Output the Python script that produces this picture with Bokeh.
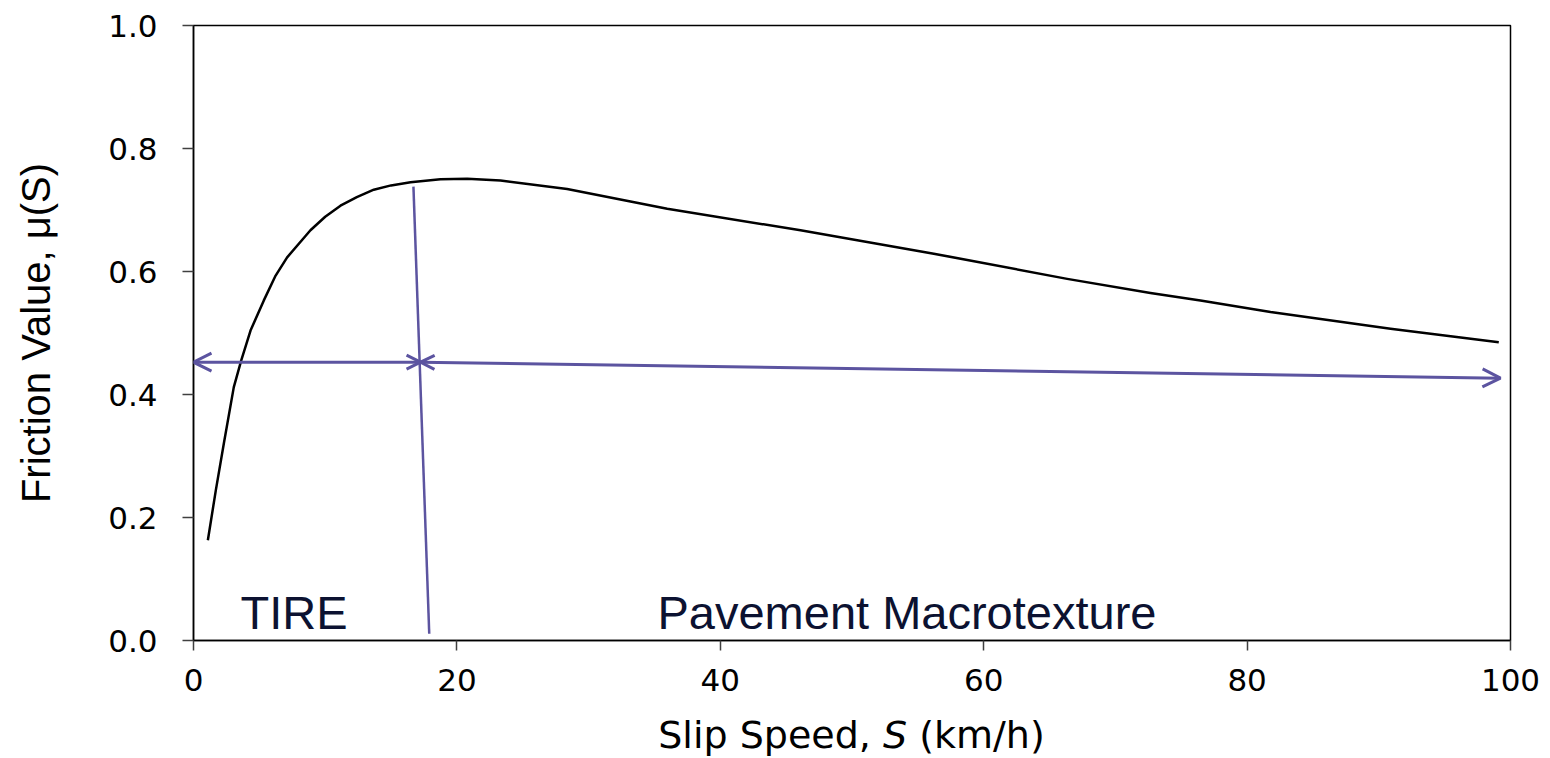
from bokeh.plotting import figure
from bokeh.models import Range1d, FixedTicker, Label, Arrow, OpenHead, Div
from bokeh.layouts import column
from bokeh.embed import file_html
from bokeh.resources import INLINE

# Friction curve mu(S) versus slip speed S
speed = [1.09, 1.70, 2.30, 3.06, 3.62, 4.33, 5.34, 6.20, 7.11, 8.88, 10.00,
         11.16, 12.40, 13.69, 15.00, 16.48, 18.75, 20.78, 23.31, 28.37, 35.97,
         46.09, 56.21, 66.34, 72.66, 76.46, 81.78, 90.89, 99.11]
friction = [0.163, 0.245, 0.320, 0.412, 0.455, 0.504, 0.553, 0.592, 0.623,
            0.667, 0.689, 0.707, 0.721, 0.733, 0.740, 0.745, 0.750, 0.751,
            0.748, 0.734, 0.702, 0.667, 0.629, 0.588, 0.565, 0.553, 0.534,
            0.507, 0.485]

# Boundary between the tire-dominated and macrotexture-dominated zones
divider_s = [16.7, 17.9]
divider_mu = [0.738, 0.011]

# Zone arrows: (S, mu) of the start and end of each arrow
tire_arrow_s = [0.0, 17.24]
tire_arrow_mu = [0.4525, 0.4525]
macro_arrow_s = [17.24, 99.24]
macro_arrow_mu = [0.4525, 0.4265]

x_ticks = [0, 20, 40, 60, 80, 100]
y_ticks = [0.0, 0.2, 0.4, 0.6, 0.8, 1.0]
y_tick_labels = ["0.0", "0.2", "0.4", "0.6", "0.8", "1.0"]

zone_names = ["TIRE", "Pavement Macrotexture"]
x_title_html = "Slip Speed, <i>S</i> (km/h)"
y_title = "Friction Value, \u03bc(S)"

ARROW = "#5c54a0"
TEXT = "#0c1231"

p = figure(width=1550, height=716,
           x_range=Range1d(0, 100), y_range=Range1d(0, 1),
           output_backend="svg", toolbar_location=None,
           min_border_left=193, min_border_right=40,
           min_border_top=25, min_border_bottom=76)
p.background_fill_color = "white"
p.border_fill_color = "white"
p.outline_line_color = "black"
p.outline_line_width = 1.5
p.xgrid.visible = False
p.ygrid.visible = False

for ax in (p.xaxis[0], p.yaxis[0]):
    ax.axis_line_color = "black"
    ax.axis_line_width = 1.5
    ax.major_tick_line_color = "#404040"
    ax.major_tick_line_width = 1.5
    ax.major_tick_in = 0
    ax.minor_tick_line_color = None
    ax.major_label_text_font = "DejaVu Sans"
    ax.major_label_text_font_size = "31px"
    ax.major_label_text_color = "black"
    ax.axis_label_text_font_style = "normal"
    ax.axis_label_text_color = "black"

p.xaxis.ticker = FixedTicker(ticks=x_ticks)
p.xaxis.major_tick_out = 10
p.xaxis.major_label_standoff = 18

p.yaxis.ticker = FixedTicker(ticks=y_ticks)
p.yaxis.major_label_overrides = {t: s for t, s in zip(y_ticks, y_tick_labels)}
p.yaxis.major_tick_out = 11
p.yaxis.major_label_standoff = 25
p.yaxis.axis_label = y_title
p.yaxis.axis_label_text_font = "Liberation Sans"
p.yaxis.axis_label_text_font_size = "40px"
p.yaxis.axis_label_standoff = 47

# friction curve
p.line(speed, friction, line_color="black", line_width=2.5, line_join="round")

# zone boundary
p.line(divider_s, divider_mu, line_color=ARROW, line_width=2.5)

# zone extent arrows
p.add_layout(Arrow(x_start=tire_arrow_s[0], y_start=tire_arrow_mu[0],
                   x_end=tire_arrow_s[1], y_end=tire_arrow_mu[1],
                   line_color=ARROW, line_width=3,
                   start=OpenHead(size=18, line_color=ARROW, line_width=3),
                   end=OpenHead(size=14, line_color=ARROW, line_width=3)))
p.add_layout(Arrow(x_start=macro_arrow_s[0], y_start=macro_arrow_mu[0],
                   x_end=macro_arrow_s[1], y_end=macro_arrow_mu[1],
                   line_color=ARROW, line_width=3,
                   start=OpenHead(size=14, line_color=ARROW, line_width=3),
                   end=OpenHead(size=18, line_color=ARROW, line_width=3)))

# zone names
p.add_layout(Label(x=3.57, y=0.0455, text=zone_names[0],
                   text_font="Liberation Sans", text_font_size="47px",
                   text_color=TEXT, text_baseline="alphabetic"))
p.add_layout(Label(x=35.23, y=0.0455, text=zone_names[1],
                   text_font="Liberation Sans", text_font_size="47px",
                   text_color=TEXT, text_baseline="alphabetic"))

# x-axis title, centred under the plot frame
x_title = Div(text=x_title_html, width=1317, height=42, margin=(0, 0, 0, 193),
              styles={"font-family": "DejaVu Sans", "font-size": "38px",
                      "color": "black", "text-align": "center",
                      "white-space": "nowrap", "line-height": "38px"})

layout = column(p, x_title, spacing=0)

open("out.html", "w").write(file_html(layout, INLINE))
